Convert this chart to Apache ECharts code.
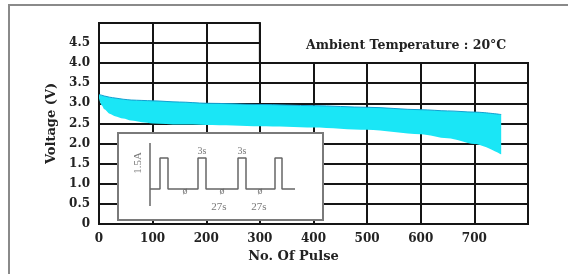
<!DOCTYPE html>
<html><head><meta charset="utf-8">
<script src="https://cdn.jsdelivr.net/npm/echarts@6/dist/echarts.min.js"></script>
<style>html,body{margin:0;padding:0;background:#fff}#c{width:568px;height:274px}</style>
</head><body><div id="c"></div>
<script>
// ---- data ----
const pulseCounts = [0, 5, 10, 20, 30, 45, 60, 80, 100, 150, 200, 300, 400, 500, 600, 650, 700, 750];
const upperVolts  = [3.22, 3.20, 3.18, 3.15, 3.13, 3.10, 3.08, 3.07, 3.06, 3.03, 3.00, 2.97, 2.94, 2.90, 2.84, 2.81, 2.78, 2.72];
const lowerVolts  = [3.12, 2.95, 2.85, 2.74, 2.68, 2.62, 2.57, 2.53, 2.50, 2.47, 2.46, 2.43, 2.40, 2.34, 2.23, 2.13, 1.99, 1.73];
const xTickLabels = ['0', '100', '200', '300', '400', '500', '600', '700', ''];
const yTickLabelsLow = ['0', '0.5', '1.0', '1.5', '2.0', '2.5', '3.0', '3.5', '4.0'];
const yTickLabelsHigh = ['', '4.5', ''];
const titleText = 'Ambient Temperature : 20°C';
const xName = 'No. Of Pulse';
const yName = 'Voltage (V)';
// inset pulse diagram (schematic time units vs current A)
const waveTime    = [32, 42, 42, 50, 50, 80, 80, 88, 88, 120, 120, 128, 128, 157, 157, 164, 164, 177];
const waveCurrent = [0, 0, 1.5, 1.5, 0, 0, 1.5, 1.5, 0, 0, 1.5, 1.5, 0, 0, 1.5, 1.5, 0, 0];
const insetAxisTime = [32, 32];
const insetAxisCurrent = [2.23, -0.82];
const annoTime    = [20, 84, 124, 101, 141, 67, 104, 142];
const annoCurrent = [1.26, 1.84, 1.84, -0.9, -0.9, -0.12, -0.12, -0.12];
const annoText    = ['1.5A', '3s', '3s', '27s', '27s', 'ø', 'ø', 'ø'];
const annoRotate  = [90, 0, 0, 0, 0, 0, 0, 0];
const annoSize    = [11, 10, 10, 11, 11, 10, 10, 10];

// ---- chart ----
const font = 'DejaVu Serif';
const gridLine = { show: true, lineStyle: { color: '#151515', width: 2 } };
const lbl = { fontFamily: font, fontWeight: 'bold', fontSize: 12, color: '#222' };

const bandDiff = upperVolts.map((u, i) => +(u - lowerVolts[i]).toFixed(3));

const chart = echarts.init(document.getElementById('c'), null, { renderer: 'canvas' });
chart.setOption({
  animation: false,
  backgroundColor: '#fff',
  title: {
    text: titleText, left: 301, top: 34,
    textStyle: { fontFamily: font, fontWeight: 'bold', fontSize: 12.5, color: '#222' }
  },
  graphic: [{
    type: 'rect', z: -10, silent: true,
    shape: { x: 9, y: 5, width: 700, height: 400 },
    style: { fill: null, stroke: '#8a8a8a', lineWidth: 2 }
  }],
  grid: [
    { left: 99, right: 40, top: 63, bottom: 50, show: true, borderColor: '#151515', borderWidth: 2 },
    { left: 99, width: 429 * 3 / 8, top: 23, height: 40, show: true, borderColor: '#151515', borderWidth: 2 },
    { left: 118, top: 133, width: 205, height: 87, show: true, z: 50, backgroundColor: '#fff', borderColor: '#7a7a7a', borderWidth: 2 }
  ],
  xAxis: [
    { gridIndex: 0, type: 'value', min: 0, max: 800, interval: 100,
      axisLine: { show: false }, axisTick: { show: false }, splitLine: gridLine,
      axisLabel: Object.assign({ margin: 9, formatter: (v, i) => xTickLabels[i] }, lbl),
      name: xName, nameLocation: 'middle', nameGap: 26,
      nameTextStyle: { fontFamily: font, fontWeight: 'bold', fontSize: 13, color: '#222', padding: [0, 40, 0, 0] } },
    { gridIndex: 1, type: 'value', min: 0, max: 300, interval: 100,
      axisLine: { show: false }, axisTick: { show: false }, splitLine: gridLine, axisLabel: { show: false } },
    { gridIndex: 2, type: 'value', min: 0, max: 205, show: false }
  ],
  yAxis: [
    { gridIndex: 0, type: 'value', min: 0, max: 4, interval: 0.5,
      axisLine: { show: false }, axisTick: { show: false }, splitLine: gridLine,
      axisLabel: Object.assign({ margin: 9, formatter: (v, i) => yTickLabelsLow[i] }, lbl),
      name: yName, nameLocation: 'middle', nameGap: 40, nameRotate: 90,
      nameTextStyle: { fontFamily: font, fontWeight: 'bold', fontSize: 13, color: '#222', padding: [0, 0, 0, 40] } },
    { gridIndex: 1, type: 'value', min: 4, max: 5, interval: 0.5,
      axisLine: { show: false }, axisTick: { show: false }, splitLine: gridLine,
      axisLabel: Object.assign({ margin: 9, formatter: (v, i) => yTickLabelsHigh[i] }, lbl) },
    { gridIndex: 2, type: 'value', min: -1.5, max: 2.71, show: false }
  ],
  series: [
    { type: 'line', xAxisIndex: 0, yAxisIndex: 0, stack: 'band', symbol: 'none', smooth: 0.3, smoothMonotone: 'x',
      lineStyle: { opacity: 0 }, z: 3, encode: { x: 1, y: 0 },
      data: pulseCounts.map((x, i) => [lowerVolts[i], x]) },
    { type: 'line', xAxisIndex: 0, yAxisIndex: 0, stack: 'band', symbol: 'none', smooth: 0.3, smoothMonotone: 'x',
      lineStyle: { color: '#129fd0', width: 1 }, areaStyle: { color: '#1ae6f6', opacity: 1 }, z: 3, encode: { x: 1, y: 0 },
      data: pulseCounts.map((x, i) => [bandDiff[i], x]) },
    { type: 'line', xAxisIndex: 2, yAxisIndex: 2, symbol: 'none', z: 60,
      lineStyle: { color: '#666', width: 1.5 },
      data: insetAxisTime.map((t, i) => [t, insetAxisCurrent[i]]) },
    { type: 'line', xAxisIndex: 2, yAxisIndex: 2, symbol: 'none', z: 60,
      lineStyle: { color: '#666', width: 1.5 },
      data: waveTime.map((t, i) => [t, waveCurrent[i]]) },
    { type: 'scatter', xAxisIndex: 2, yAxisIndex: 2, symbolSize: 0, z: 61, silent: true,
      data: annoTime.map((t, i) => ({
        value: [t, annoCurrent[i]],
        label: { show: true, position: 'inside', formatter: annoText[i], rotate: annoRotate[i],
                 fontFamily: 'Liberation Serif', fontSize: annoSize[i], color: '#555' }
      })) }
  ]
});
</script></body></html>
